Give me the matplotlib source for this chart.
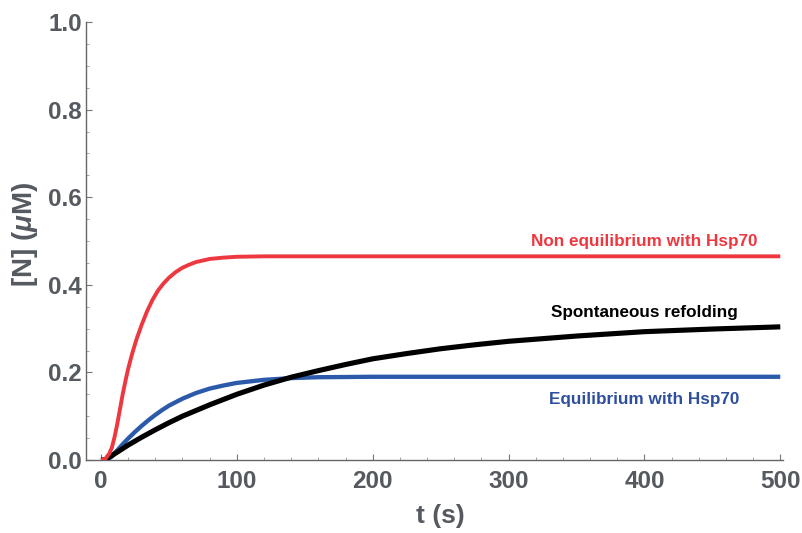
import matplotlib
matplotlib.use("Agg")
import matplotlib.pyplot as plt
from matplotlib.ticker import MultipleLocator

plt.rcParams['font.family'] = ['Liberation Sans', 'DejaVu Sans']
plt.rcParams['mathtext.fontset'] = 'custom'
plt.rcParams['mathtext.it'] = 'Liberation Sans:bold:italic'
plt.rcParams['mathtext.rm'] = 'Liberation Sans:bold'

# ---- data ----
t_red = [0, 3, 6, 8, 10, 12, 14, 16, 18, 20, 23, 26, 30, 34, 38, 42, 46, 50, 55,
         60, 65, 70, 80, 90, 100, 120, 150, 200, 300, 400, 500]
n_red = [0, 0.002, 0.014, 0.028, 0.052, 0.082, 0.116, 0.15, 0.18, 0.208, 0.243, 0.274,
         0.309, 0.34, 0.366, 0.387, 0.403, 0.416, 0.429, 0.439, 0.446, 0.452, 0.459,
         0.462, 0.464, 0.465, 0.465, 0.465, 0.465, 0.465, 0.465]

t_blue = [0, 4, 8, 12, 16, 20, 25, 30, 35, 40, 45, 50, 60, 70, 80, 90, 100, 120,
          140, 160, 200, 300, 400, 500]
n_blue = [0, 0, 0.008, 0.022, 0.036, 0.049, 0.064, 0.078, 0.091, 0.103, 0.114,
          0.124, 0.140, 0.153, 0.163, 0.170, 0.176, 0.183, 0.187, 0.189, 0.190,
          0.190, 0.190, 0.190]

t_black = [0, 3, 10, 20, 30, 40, 50, 60, 70, 80, 90, 100, 120, 140, 160, 180, 200,
           225, 250, 275, 300, 350, 400, 450, 500]
n_black = [0, 0, 0.014, 0.034, 0.052, 0.069, 0.085, 0.100, 0.113, 0.126, 0.138,
           0.150, 0.171, 0.189, 0.204, 0.218, 0.231, 0.243, 0.254, 0.263, 0.271,
           0.283, 0.293, 0.299, 0.304]

labels = ["Non equilibrium with Hsp70", "Spontaneous refolding", "Equilibrium with Hsp70"]
label_x = [400, 400, 400]
label_y = [0.50, 0.336, 0.139]

x_ticks = [0, 100, 200, 300, 400, 500]
y_ticks = [0.0, 0.2, 0.4, 0.6, 0.8, 1.0]

RED = '#ee3840'
BLUE = '#2b5aaa'
BLACK = '#000000'
GRAY = '#555a60'

fig = plt.figure(figsize=(8.02, 5.33), dpi=100)
ax = fig.add_axes([86/802, 1-460/533, 697/802, 438/533])

ax.plot(t_blue, n_blue, color=BLUE, lw=3.1, solid_capstyle='butt', zorder=3)
ax.plot(t_black, n_black, color=BLACK, lw=3.7, solid_capstyle='butt', zorder=4)
ax.plot(t_red, n_red, color=RED, lw=2.8, solid_capstyle='butt', zorder=5)

colors = [RED, BLACK, '#2e4f9f']
for s, x, y, c in zip(labels, label_x, label_y, colors):
    ax.text(x, y, s, color=c, fontsize=12.3, fontweight='bold', ha='center', va='center')

ax.set_xlim(-11, 502)
ax.set_ylim(0, 1.0)
ax.set_xticks(x_ticks)
ax.set_yticks(y_ticks)
ax.set_xticklabels([str(v) for v in x_ticks])
ax.set_yticklabels([f"{v:.1f}" for v in y_ticks])
ax.xaxis.set_minor_locator(MultipleLocator(20))
ax.yaxis.set_minor_locator(MultipleLocator(0.05))

for sp in ['top', 'right']:
    ax.spines[sp].set_visible(False)
for sp in ['left', 'bottom']:
    ax.spines[sp].set_color('#666666')
    ax.spines[sp].set_linewidth(1.0)

ax.tick_params(which='major', direction='in', length=4, width=0.8, color='#777777',
               labelsize=17.5, labelcolor=GRAY)
ax.tick_params(which='minor', direction='in', length=2.5, width=0.6, color='#999999')
ax.tick_params(axis='x', which='major', pad=7)
ax.tick_params(axis='y', which='major', pad=3)
for lab in ax.get_xticklabels() + ax.get_yticklabels():
    lab.set_fontweight('bold')

fig.text(440/802, 1-516/533, 't (s)', fontsize=19, fontweight='bold', color=GRAY,
         ha='center', va='center')
fig.text(25/802, 1-234/533, r'[N] ($\mu$M)', fontsize=20, fontweight='bold', color=GRAY,
         ha='center', va='center', rotation=90)

fig.savefig('out.png', dpi=100)
